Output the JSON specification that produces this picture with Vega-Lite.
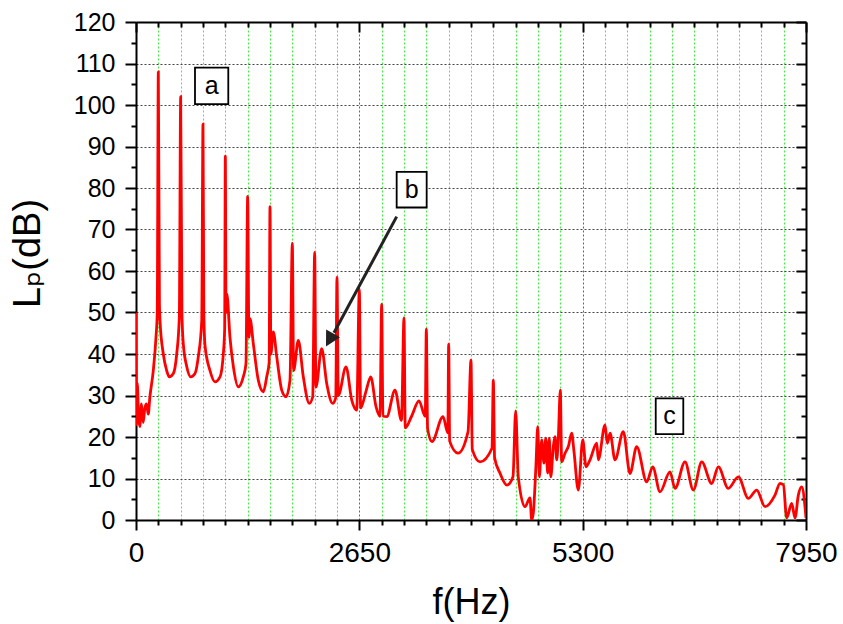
{
  "$schema": "https://vega.github.io/schema/vega-lite/v6.json",
  "width": 670,
  "height": 498,
  "autosize": "none",
  "padding": {"left": 136, "top": 22, "right": 37, "bottom": 104},
  "config": {"view": {"stroke": null}, "font": "Liberation Sans"},
  "datasets": {
    "spectrum": [
      {"f":0,"L":50},{"f":5,"L":23},{"f":15,"L":33},{"f":30,"L":25},{"f":45,"L":22.5},{"f":65,"L":28},{"f":85,"L":23.5},{"f":105,"L":27},{"f":125,"L":28},{"f":145,"L":25.5},{"f":165,"L":29.7},{"f":205,"L":36},{"f":237,"L":44},{"f":252,"L":50},{"f":265,"L":108},{"f":278,"L":52},{"f":285,"L":48},{"f":324,"L":40},{"f":364,"L":36},{"f":395,"L":34.5},{"f":443,"L":35.3},{"f":483,"L":40},{"f":514,"L":49},{"f":530,"L":102},{"f":545,"L":50},{"f":561,"L":42.5},{"f":602,"L":37},{"f":649,"L":34.5},{"f":700,"L":35.3},{"f":739,"L":39.3},{"f":780,"L":48},{"f":795,"L":95.4},{"f":805,"L":49.7},{"f":819,"L":42},{"f":878,"L":36},{"f":937,"L":33.3},{"f":997,"L":34.5},{"f":1036,"L":40},{"f":1052,"L":46},{"f":1060,"L":87.7},{"f":1068,"L":50},{"f":1078,"L":54.5},{"f":1115,"L":44},{"f":1155,"L":37},{"f":1214,"L":32.1},{"f":1273,"L":34.5},{"f":1305,"L":37.7},{"f":1325,"L":78},{"f":1340,"L":44},{"f":1353,"L":48.5},{"f":1392,"L":42.5},{"f":1451,"L":33.7},{"f":1511,"L":30.9},{"f":1551,"L":34.5},{"f":1580,"L":38},{"f":1590,"L":75.5},{"f":1600,"L":40},{"f":1629,"L":45.3},{"f":1670,"L":39.3},{"f":1729,"L":31.3},{"f":1780,"L":29.7},{"f":1827,"L":33.7},{"f":1855,"L":66.7},{"f":1870,"L":36},{"f":1926,"L":43.3},{"f":1985,"L":34.5},{"f":2056,"L":28.1},{"f":2097,"L":29.7},{"f":2120,"L":64.5},{"f":2135,"L":32},{"f":2203,"L":41.3},{"f":2263,"L":32.9},{"f":2334,"L":28.1},{"f":2370,"L":29.5},{"f":2385,"L":58.5},{"f":2400,"L":30},{"f":2492,"L":36.9},{"f":2560,"L":28.9},{"f":2619,"L":26.5},{"f":2650,"L":55.6},{"f":2665,"L":27},{"f":2729,"L":31},{"f":2785,"L":34.5},{"f":2848,"L":27.3},{"f":2895,"L":25},{"f":2915,"L":52},{"f":2930,"L":25},{"f":2975,"L":24.9},{"f":3073,"L":31.3},{"f":3150,"L":24},{"f":3180,"L":48.7},{"f":3195,"L":22.2},{"f":3270,"L":25},{"f":3358,"L":28.7},{"f":3432,"L":25},{"f":3445,"L":46},{"f":3460,"L":22},{"f":3512,"L":18.9},{"f":3643,"L":24.9},{"f":3700,"L":21},{"f":3710,"L":42.4},{"f":3722,"L":19},{"f":3821,"L":16.1},{"f":3940,"L":21.3},{"f":3975,"L":38.5},{"f":3990,"L":17},{"f":4082,"L":14},{"f":4224,"L":17.3},{"f":4240,"L":33.7},{"f":4255,"L":15},{"f":4319,"L":11.3},{"f":4402,"L":8.4},{"f":4473,"L":10.4},{"f":4505,"L":26.3},{"f":4536,"L":10.4},{"f":4616,"L":3.2},{"f":4675,"L":5.3},{"f":4695,"L":0},{"f":4714,"L":1.6},{"f":4746,"L":13.3},{"f":4767,"L":22.5},{"f":4786,"L":10.4},{"f":4814,"L":19.3},{"f":4841,"L":13.7},{"f":4862,"L":19.7},{"f":4885,"L":11.3},{"f":4904,"L":19.7},{"f":4921,"L":10.4},{"f":4952,"L":17.7},{"f":4972,"L":20.1},{"f":4992,"L":14.5},{"f":5011,"L":19.7},{"f":5035,"L":31.3},{"f":5051,"L":14},{"f":5091,"L":16.1},{"f":5130,"L":17.7},{"f":5170,"L":20.9},{"f":5197,"L":16.5},{"f":5248,"L":7.2},{"f":5301,"L":19.3},{"f":5340,"L":12.8},{"f":5387,"L":14.5},{"f":5467,"L":18.5},{"f":5486,"L":14.5},{"f":5565,"L":22.9},{"f":5593,"L":18.5},{"f":5625,"L":20.9},{"f":5684,"L":14.5},{"f":5782,"L":21.3},{"f":5862,"L":11.2},{"f":5941,"L":17.7},{"f":6060,"L":9.2},{"f":6131,"L":12.8},{"f":6218,"L":6.8},{"f":6336,"L":11.6},{"f":6396,"L":7.6},{"f":6514,"L":14},{"f":6613,"L":7.2},{"f":6713,"L":14},{"f":6831,"L":8.8},{"f":6910,"L":12.8},{"f":7028,"L":7.6},{"f":7147,"L":10.4},{"f":7266,"L":5.2},{"f":7365,"L":7.2},{"f":7464,"L":3.2},{"f":7582,"L":6},{"f":7642,"L":8.8},{"f":7681,"L":8.5},{"f":7721,"L":0.5},{"f":7780,"L":4},{"f":7820,"L":0.5},{"f":7859,"L":6},{"f":7899,"L":8},{"f":7938,"L":3.2},{"f":7950,"L":0.5}
    ],
    "boxes": [
      {"label":"a","x0":700,"x1":1095,"y0":100.2,"y1":109,"xc":897,"yc":104.6},
      {"label":"b","x0":3093,"x1":3449,"y0":75.3,"y1":83.9,"xc":3271,"yc":79.6},
      {"label":"c","x0":6167,"x1":6494,"y0":20.7,"y1":29.3,"xc":6330,"yc":25}
    ],
    "arrow": [
      {"x":3093,"y":73.1},{"x":2349,"y":45.1}
    ],
    "arrowhead": [
      {"x":2254,"y":41.8}
    ]
  },
  "layer": [
    {
      "data": {"name": "spectrum"},
      "mark": {"type": "line", "color": "#ff0000", "strokeWidth": 2.8, "interpolate": "monotone", "clip": true},
      "encoding": {
        "x": {
          "field": "f", "type": "quantitative",
          "scale": {"domain": [0, 7950], "nice": false, "zero": false},
          "axis": {
            "orient": "bottom",
            "values": [0,265,530,795,1060,1325,1590,1855,2120,2385,2650,2915,3180,3445,3710,3975,4240,4505,4770,5035,5300,5565,5830,6095,6360,6625,6890,7155,7420,7685,7950],
            "labelExpr": "datum.value % 2650 == 0 ? format(datum.value, 'd') : ''",
            "labelFlush": false, "labelOverlap": false,
            "tickSize": {"condition": {"test": "datum.value % 2650 == 0", "value": 10}, "value": 5},
            "tickColor": "black", "tickWidth": 2,
            "domainColor": "black", "domainWidth": 2,
            "grid": true,
            "gridColor": {"condition": {"test": "datum.value % 2650 == 0", "value": "#666666"}, "value": "#44ee44"},
            "gridDash": [2, 2], "gridWidth": 1, "gridOpacity": 1,
            "labelFont": "Liberation Sans", "labelFontSize": 28, "labelColor": "black", "labelPadding": 9,
            "title": "f(Hz)", "titleFont": "Liberation Sans", "titleFontSize": 36, "titleFontWeight": "normal", "titleColor": "black",
            "titleBaseline": "alphabetic", "titleY": 93
          }
        },
        "y": {
          "field": "L", "type": "quantitative",
          "scale": {"domain": [0, 120], "nice": false},
          "axis": {
            "orient": "left",
            "values": [0,5,10,15,20,25,30,35,40,45,50,55,60,65,70,75,80,85,90,95,100,105,110,115,120],
            "labelExpr": "datum.value % 10 == 0 ? format(datum.value, 'd') : ''",
            "labelFlush": false, "labelOverlap": false,
            "tickSize": {"condition": {"test": "datum.value % 10 == 0", "value": 11}, "value": 5},
            "tickColor": "black", "tickWidth": 2,
            "domainColor": "black", "domainWidth": 2,
            "grid": true,
            "gridColor": "#444444",
            "gridOpacity": {"condition": {"test": "datum.value % 10 == 0", "value": 1}, "value": 0},
            "gridDash": [2, 2], "gridWidth": 1,
            "labelFont": "Liberation Sans", "labelFontSize": 25, "labelColor": "black", "labelPadding": 10,
            "title": "Lₚ(dB)", "titleFont": "Liberation Sans, DejaVu Sans", "titleFontSize": 38, "titleFontWeight": "normal", "titleColor": "black",
            "titleBaseline": "alphabetic", "titleX": -97, "titleY": 231
          }
        }
      }
    },
    {
      "data": {"name": "boxes"},
      "mark": {"type": "rect", "fill": "white", "stroke": "black", "strokeWidth": 1.8},
      "encoding": {
        "x": {
          "field": "x0", "type": "quantitative",
          "scale": {"domain": [0, 7950], "nice": false, "zero": false},
          "axis": {
            "orient": "top",
            "values": [0,265,530,795,1060,1325,1590,1855,2120,2385,2650,2915,3180,3445,3710,3975,4240,4505,4770,5035,5300,5565,5830,6095,6360,6625,6890,7155,7420,7685,7950],
            "labels": false, "grid": false, "title": null,
            "tickSize": {"condition": {"test": "datum.value % 2650 == 0", "value": -10}, "value": -5},
            "tickColor": "black", "tickWidth": 2,
            "domainColor": "black", "domainWidth": 2
          }
        },
        "x2": {"field": "x1"},
        "y": {
          "field": "y0", "type": "quantitative",
          "scale": {"domain": [0, 120], "nice": false},
          "axis": {
            "orient": "right",
            "values": [0,5,10,15,20,25,30,35,40,45,50,55,60,65,70,75,80,85,90,95,100,105,110,115,120],
            "labels": false, "grid": false, "title": null,
            "tickSize": {"condition": {"test": "datum.value % 10 == 0", "value": -10}, "value": -5},
            "tickColor": "black", "tickWidth": 2,
            "domainColor": "black", "domainWidth": 2
          }
        },
        "y2": {"field": "y1"}
      }
    },
    {
      "data": {"name": "boxes"},
      "mark": {"type": "text", "font": "Liberation Sans", "fontSize": 25, "color": "black", "baseline": "middle", "align": "center"},
      "encoding": {
        "x": {"field": "xc", "type": "quantitative", "axis": null},
        "y": {"field": "yc", "type": "quantitative", "axis": null},
        "text": {"field": "label"}
      }
    },
    {
      "data": {"name": "arrow"},
      "mark": {"type": "line", "color": "#222222", "strokeWidth": 3},
      "encoding": {
        "x": {"field": "x", "type": "quantitative", "axis": null},
        "y": {"field": "y", "type": "quantitative", "axis": null}
      }
    },
    {
      "data": {"name": "arrowhead"},
      "mark": {"type": "point", "shape": "M0,0L0.53,1L-0.53,1Z", "size": 900, "angle": 208.5, "filled": true, "color": "#222222", "opacity": 1},
      "encoding": {
        "x": {"field": "x", "type": "quantitative", "axis": null},
        "y": {"field": "y", "type": "quantitative", "axis": null}
      }
    }
  ],
  "resolve": {"scale": {"x": "shared", "y": "shared"}, "axis": {"x": "independent", "y": "independent"}}
}
